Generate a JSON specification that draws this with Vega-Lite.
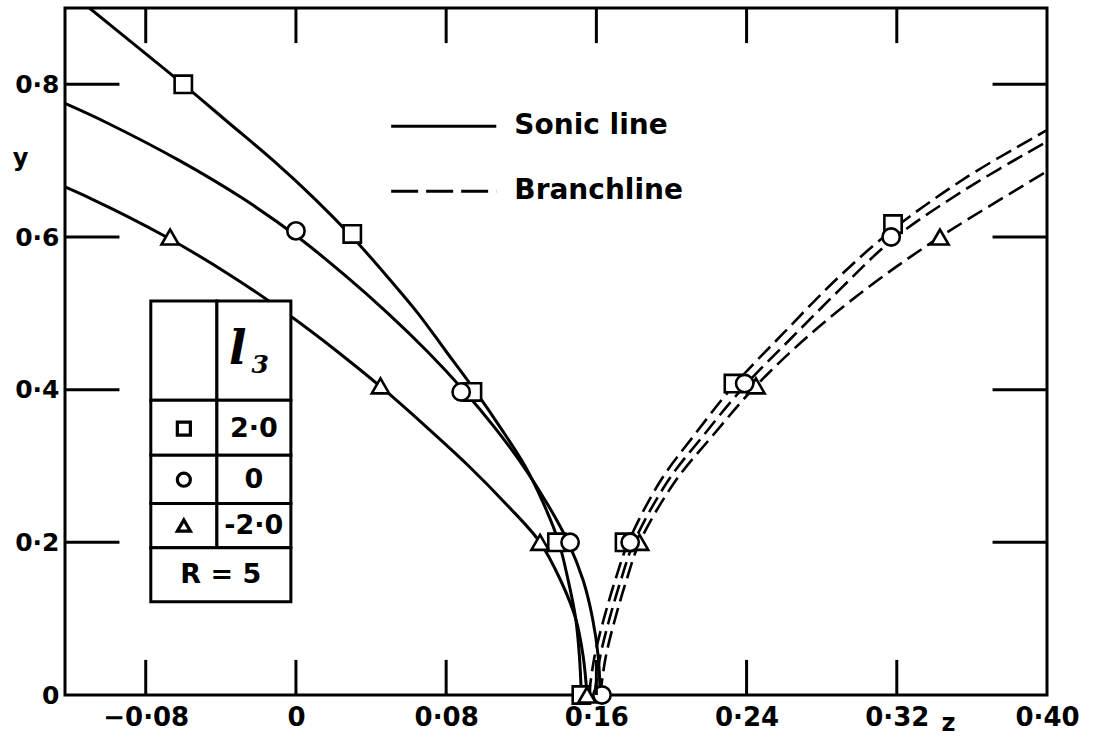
{
  "$schema": "https://vega.github.io/schema/vega-lite/v6.json",
  "width": 982,
  "height": 687,
  "autosize": {"type": "none"},
  "padding": {"left": 65, "top": 8, "right": 53, "bottom": 49},
  "background": "white",
  "config": {"view": {"stroke": "black", "strokeWidth": 3}, "font": "DejaVu Sans"},
  "encoding": {
    "x": {"type": "quantitative",
      "scale": {"domain": [-0.123, 0.40], "nice": false, "zero": false},
      "axis": {"values": [-0.08, 0, 0.08, 0.16, 0.24, 0.32, 0.40],
        "labelExpr": "datum.value == 0 ? '0' : replace(replace(format(datum.value, '.2f'), '.', '·'), '-', '−')",
        "ticks": false, "domain": false, "grid": false,
        "labelFont": "DejaVu Sans", "labelFontWeight": "bold", "labelFontSize": 26, "labelColor": "black",
        "labelPadding": 9, "labelFlush": false, "labelOverlap": false,
        "title": "z", "titleFont": "DejaVu Sans", "titleFontWeight": "bold", "titleFontSize": 24, "titleColor": "black",
        "titleX": 883, "titleY": 28, "titleBaseline": "middle", "titleAlign": "center"}},
    "y": {"type": "quantitative",
      "scale": {"domain": [0, 0.9], "nice": false, "zero": false},
      "axis": {"values": [0, 0.2, 0.4, 0.6, 0.8],
        "labelExpr": "datum.value == 0 ? '0' : replace(format(datum.value, '.1f'), '.', '·')",
        "ticks": false, "domain": false, "grid": false,
        "labelFont": "DejaVu Sans", "labelFontWeight": "bold", "labelFontSize": 25, "labelColor": "black",
        "labelPadding": 6, "labelFlush": false, "labelOverlap": false,
        "title": "y", "titleFont": "DejaVu Sans", "titleFontWeight": "bold", "titleFontSize": 24, "titleColor": "black",
        "titleAngle": 0, "titleX": -45, "titleY": 150, "titleBaseline": "middle", "titleAlign": "center"}}
  },
  "datasets": {
    "curves": [
      {"series": "sq", "kind": "sonic", "x": 0.152, "y": 0.0},
      {"series": "sq", "kind": "sonic", "x": 0.151, "y": 0.05},
      {"series": "sq", "kind": "sonic", "x": 0.149, "y": 0.1},
      {"series": "sq", "kind": "sonic", "x": 0.145, "y": 0.15},
      {"series": "sq", "kind": "sonic", "x": 0.140, "y": 0.2},
      {"series": "sq", "kind": "sonic", "x": 0.132, "y": 0.25},
      {"series": "sq", "kind": "sonic", "x": 0.122, "y": 0.3},
      {"series": "sq", "kind": "sonic", "x": 0.109, "y": 0.35},
      {"series": "sq", "kind": "sonic", "x": 0.095, "y": 0.4},
      {"series": "sq", "kind": "sonic", "x": 0.080, "y": 0.45},
      {"series": "sq", "kind": "sonic", "x": 0.065, "y": 0.5},
      {"series": "sq", "kind": "sonic", "x": 0.048, "y": 0.55},
      {"series": "sq", "kind": "sonic", "x": 0.030, "y": 0.6},
      {"series": "sq", "kind": "sonic", "x": 0.010, "y": 0.65},
      {"series": "sq", "kind": "sonic", "x": -0.012, "y": 0.7},
      {"series": "sq", "kind": "sonic", "x": -0.036, "y": 0.75},
      {"series": "sq", "kind": "sonic", "x": -0.060, "y": 0.8},
      {"series": "sq", "kind": "sonic", "x": -0.085, "y": 0.85},
      {"series": "sq", "kind": "sonic", "x": -0.110, "y": 0.9},
      {"series": "ci", "kind": "sonic", "x": 0.162, "y": 0.0},
      {"series": "ci", "kind": "sonic", "x": 0.161, "y": 0.05},
      {"series": "ci", "kind": "sonic", "x": 0.158, "y": 0.1},
      {"series": "ci", "kind": "sonic", "x": 0.153, "y": 0.15},
      {"series": "ci", "kind": "sonic", "x": 0.145, "y": 0.2},
      {"series": "ci", "kind": "sonic", "x": 0.134, "y": 0.25},
      {"series": "ci", "kind": "sonic", "x": 0.121, "y": 0.3},
      {"series": "ci", "kind": "sonic", "x": 0.106, "y": 0.35},
      {"series": "ci", "kind": "sonic", "x": 0.089, "y": 0.4},
      {"series": "ci", "kind": "sonic", "x": 0.070, "y": 0.45},
      {"series": "ci", "kind": "sonic", "x": 0.049, "y": 0.5},
      {"series": "ci", "kind": "sonic", "x": 0.026, "y": 0.55},
      {"series": "ci", "kind": "sonic", "x": 0.001, "y": 0.6},
      {"series": "ci", "kind": "sonic", "x": -0.028, "y": 0.65},
      {"series": "ci", "kind": "sonic", "x": -0.062, "y": 0.7},
      {"series": "ci", "kind": "sonic", "x": -0.101, "y": 0.75},
      {"series": "ci", "kind": "sonic", "x": -0.124, "y": 0.776},
      {"series": "tr", "kind": "sonic", "x": 0.155, "y": 0.0},
      {"series": "tr", "kind": "sonic", "x": 0.153, "y": 0.05},
      {"series": "tr", "kind": "sonic", "x": 0.149, "y": 0.1},
      {"series": "tr", "kind": "sonic", "x": 0.141, "y": 0.15},
      {"series": "tr", "kind": "sonic", "x": 0.130, "y": 0.2},
      {"series": "tr", "kind": "sonic", "x": 0.112, "y": 0.25},
      {"series": "tr", "kind": "sonic", "x": 0.092, "y": 0.3},
      {"series": "tr", "kind": "sonic", "x": 0.070, "y": 0.35},
      {"series": "tr", "kind": "sonic", "x": 0.047, "y": 0.4},
      {"series": "tr", "kind": "sonic", "x": 0.022, "y": 0.45},
      {"series": "tr", "kind": "sonic", "x": -0.005, "y": 0.5},
      {"series": "tr", "kind": "sonic", "x": -0.035, "y": 0.55},
      {"series": "tr", "kind": "sonic", "x": -0.069, "y": 0.6},
      {"series": "tr", "kind": "sonic", "x": -0.109, "y": 0.65},
      {"series": "tr", "kind": "sonic", "x": -0.156, "y": 0.7},
      {"series": "sqb", "kind": "branch", "x": 0.156, "y": 0.0},
      {"series": "sqb", "kind": "branch", "x": 0.159, "y": 0.05},
      {"series": "sqb", "kind": "branch", "x": 0.164, "y": 0.1},
      {"series": "sqb", "kind": "branch", "x": 0.170, "y": 0.15},
      {"series": "sqb", "kind": "branch", "x": 0.177, "y": 0.2},
      {"series": "sqb", "kind": "branch", "x": 0.194, "y": 0.28},
      {"series": "sqb", "kind": "branch", "x": 0.212, "y": 0.34},
      {"series": "sqb", "kind": "branch", "x": 0.233, "y": 0.405},
      {"series": "sqb", "kind": "branch", "x": 0.260, "y": 0.475},
      {"series": "sqb", "kind": "branch", "x": 0.288, "y": 0.545},
      {"series": "sqb", "kind": "branch", "x": 0.318, "y": 0.61},
      {"series": "sqb", "kind": "branch", "x": 0.357, "y": 0.678},
      {"series": "sqb", "kind": "branch", "x": 0.400, "y": 0.74},
      {"series": "cib", "kind": "branch", "x": 0.159, "y": 0.0},
      {"series": "cib", "kind": "branch", "x": 0.162, "y": 0.05},
      {"series": "cib", "kind": "branch", "x": 0.167, "y": 0.1},
      {"series": "cib", "kind": "branch", "x": 0.173, "y": 0.15},
      {"series": "cib", "kind": "branch", "x": 0.180, "y": 0.2},
      {"series": "cib", "kind": "branch", "x": 0.198, "y": 0.28},
      {"series": "cib", "kind": "branch", "x": 0.217, "y": 0.34},
      {"series": "cib", "kind": "branch", "x": 0.239, "y": 0.405},
      {"series": "cib", "kind": "branch", "x": 0.264, "y": 0.468},
      {"series": "cib", "kind": "branch", "x": 0.290, "y": 0.532},
      {"series": "cib", "kind": "branch", "x": 0.318, "y": 0.597},
      {"series": "cib", "kind": "branch", "x": 0.357, "y": 0.663},
      {"series": "cib", "kind": "branch", "x": 0.400, "y": 0.725},
      {"series": "trb", "kind": "branch", "x": 0.162, "y": 0.0},
      {"series": "trb", "kind": "branch", "x": 0.165, "y": 0.05},
      {"series": "trb", "kind": "branch", "x": 0.170, "y": 0.1},
      {"series": "trb", "kind": "branch", "x": 0.176, "y": 0.15},
      {"series": "trb", "kind": "branch", "x": 0.183, "y": 0.2},
      {"series": "trb", "kind": "branch", "x": 0.202, "y": 0.28},
      {"series": "trb", "kind": "branch", "x": 0.222, "y": 0.34},
      {"series": "trb", "kind": "branch", "x": 0.245, "y": 0.405},
      {"series": "trb", "kind": "branch", "x": 0.275, "y": 0.475},
      {"series": "trb", "kind": "branch", "x": 0.308, "y": 0.54},
      {"series": "trb", "kind": "branch", "x": 0.343, "y": 0.6},
      {"series": "trb", "kind": "branch", "x": 0.400, "y": 0.686}
    ],
    "markers": [
      {"l3": "2.0", "x": -0.060, "y": 0.8},
      {"l3": "2.0", "x": 0.030, "y": 0.604},
      {"l3": "2.0", "x": 0.094, "y": 0.397},
      {"l3": "2.0", "x": 0.139, "y": 0.2},
      {"l3": "2.0", "x": 0.152, "y": 0.0},
      {"l3": "2.0", "x": 0.175, "y": 0.2},
      {"l3": "2.0", "x": 0.233, "y": 0.408},
      {"l3": "2.0", "x": 0.318, "y": 0.617},
      {"l3": "-2.0", "x": -0.067, "y": 0.6},
      {"l3": "-2.0", "x": 0.045, "y": 0.405},
      {"l3": "-2.0", "x": 0.130, "y": 0.2},
      {"l3": "-2.0", "x": 0.155, "y": 0.0},
      {"l3": "-2.0", "x": 0.183, "y": 0.2},
      {"l3": "-2.0", "x": 0.245, "y": 0.405},
      {"l3": "-2.0", "x": 0.343, "y": 0.6},
      {"l3": "0", "x": 0.000, "y": 0.608},
      {"l3": "0", "x": 0.088, "y": 0.397},
      {"l3": "0", "x": 0.146, "y": 0.2},
      {"l3": "0", "x": 0.163, "y": 0.0},
      {"l3": "0", "x": 0.178, "y": 0.2},
      {"l3": "0", "x": 0.239, "y": 0.408},
      {"l3": "0", "x": 0.317, "y": 0.6}
    ],
    "cells": [
      {"x1": -0.0773, "x2": -0.0421, "y1": 0.386, "y2": 0.516},
      {"x1": -0.0421, "x2": -0.0027, "y1": 0.386, "y2": 0.516},
      {"x1": -0.0773, "x2": -0.0421, "y1": 0.314, "y2": 0.386},
      {"x1": -0.0421, "x2": -0.0027, "y1": 0.314, "y2": 0.386},
      {"x1": -0.0773, "x2": -0.0421, "y1": 0.251, "y2": 0.314},
      {"x1": -0.0421, "x2": -0.0027, "y1": 0.251, "y2": 0.314},
      {"x1": -0.0773, "x2": -0.0421, "y1": 0.193, "y2": 0.251},
      {"x1": -0.0421, "x2": -0.0027, "y1": 0.193, "y2": 0.251},
      {"x1": -0.0773, "x2": -0.0027, "y1": 0.122, "y2": 0.193}
    ],
    "tablerows": [
      {"l3": "2.0", "label": "2·0", "sx": -0.0597, "tx": -0.0224, "y": 0.349},
      {"l3": "0", "label": "0", "sx": -0.0597, "tx": -0.0224, "y": 0.282},
      {"l3": "-2.0", "label": "-2·0", "sx": -0.0597, "tx": -0.0224, "y": 0.222}
    ],
    "texts": [
      {"t": "R = 5", "x": -0.040, "y": 0.157, "k": "table"},
      {"t": "Sonic line", "x": 0.1163, "y": 0.745, "k": "legend"},
      {"t": "Branchline", "x": 0.1163, "y": 0.660, "k": "legend"}
    ]
  },
  "layer": [
    {
      "data": {"name": "curves"},
      "transform": [{"filter": "datum.kind == 'sonic'"}],
      "mark": {"type": "line", "interpolate": "catmull-rom", "color": "black", "strokeWidth": 3, "clip": true},
      "encoding": {
        "x": {"field": "x", "type": "quantitative"},
        "y": {"field": "y", "type": "quantitative"},
        "detail": {"field": "series"}
      }
    },
    {
      "data": {"name": "curves"},
      "transform": [{"filter": "datum.kind == 'branch'"}],
      "mark": {"type": "line", "interpolate": "catmull-rom", "color": "black", "strokeWidth": 2.6, "strokeDash": [17, 7], "clip": true},
      "encoding": {
        "x": {"field": "x", "type": "quantitative"},
        "y": {"field": "y", "type": "quantitative"},
        "detail": {"field": "series"}
      }
    },
    {
      "data": {"name": "markers"},
      "mark": {"type": "point", "filled": true, "fill": "white", "stroke": "black", "strokeWidth": 2.6, "size": 300, "opacity": 1},
      "encoding": {
        "x": {"field": "x", "type": "quantitative"},
        "y": {"field": "y", "type": "quantitative"},
        "shape": {"field": "l3", "type": "nominal", "scale": {"domain": ["2.0", "0", "-2.0"], "range": ["square", "circle", "triangle-up"]}, "legend": null}
      }
    },
    {
      "data": {"values": [{"v": -0.08}, {"v": 0}, {"v": 0.08}, {"v": 0.16}, {"v": 0.24}, {"v": 0.32}]},
      "layer": [
        {"mark": {"type": "rule", "color": "black", "strokeWidth": 3},
         "encoding": {"x": {"field": "v", "type": "quantitative"},
                      "y": {"datum": 0, "type": "quantitative"},
                      "y2": {"datum": 0.046}}},
        {"mark": {"type": "rule", "color": "black", "strokeWidth": 3},
         "encoding": {"x": {"field": "v", "type": "quantitative"},
                      "y": {"datum": 0.854, "type": "quantitative"},
                      "y2": {"datum": 0.9}}}
      ]
    },
    {
      "data": {"values": [{"v": 0.2}, {"v": 0.4}, {"v": 0.6}, {"v": 0.8}]},
      "layer": [
        {"mark": {"type": "rule", "color": "black", "strokeWidth": 3},
         "encoding": {"y": {"field": "v", "type": "quantitative"},
                      "x": {"datum": -0.123, "type": "quantitative"},
                      "x2": {"datum": -0.094}}},
        {"mark": {"type": "rule", "color": "black", "strokeWidth": 3},
         "encoding": {"y": {"field": "v", "type": "quantitative"},
                      "x": {"datum": 0.371, "type": "quantitative"},
                      "x2": {"datum": 0.40}}}
      ]
    },
    {
      "data": {"name": "cells"},
      "mark": {"type": "rect", "fill": "white", "stroke": "black", "strokeWidth": 3},
      "encoding": {
        "x": {"field": "x1", "type": "quantitative"},
        "x2": {"field": "x2"},
        "y": {"field": "y1", "type": "quantitative"},
        "y2": {"field": "y2"}
      }
    },
    {
      "data": {"name": "tablerows"},
      "layer": [
        {"mark": {"type": "point", "filled": true, "fill": "white", "stroke": "black", "strokeWidth": 3.2, "size": 170, "opacity": 1},
         "encoding": {
           "x": {"field": "sx", "type": "quantitative"},
           "y": {"field": "y", "type": "quantitative"},
           "shape": {"field": "l3", "type": "nominal", "scale": {"domain": ["2.0", "0", "-2.0"], "range": ["square", "circle", "triangle-up"]}, "legend": null}}},
        {"mark": {"type": "text", "font": "DejaVu Sans", "fontWeight": "bold", "fontSize": 27, "color": "black", "align": "center", "baseline": "middle"},
         "encoding": {
           "x": {"field": "tx", "type": "quantitative"},
           "y": {"field": "y", "type": "quantitative"},
           "text": {"field": "label"}}}
      ]
    },
    {
      "data": {"values": [{"t": "l", "x": -0.031, "y": 0.452, "k": "l"}, {"t": "3", "x": -0.019, "y": 0.432, "k": "s"}]},
      "layer": [
        {"transform": [{"filter": "datum.k == 'l'"}],
         "mark": {"type": "text", "font": "DejaVu Serif", "fontStyle": "italic", "fontWeight": "bold", "fontSize": 46, "color": "black", "align": "center", "baseline": "middle"},
         "encoding": {
           "x": {"field": "x", "type": "quantitative"},
           "y": {"field": "y", "type": "quantitative"},
           "text": {"field": "t"}}},
        {"transform": [{"filter": "datum.k == 's'"}],
         "mark": {"type": "text", "font": "DejaVu Serif", "fontStyle": "italic", "fontWeight": "bold", "fontSize": 25, "color": "black", "align": "center", "baseline": "middle"},
         "encoding": {
           "x": {"field": "x", "type": "quantitative"},
           "y": {"field": "y", "type": "quantitative"},
           "text": {"field": "t"}}}
      ]
    },
    {
      "data": {"values": [{"x": 0.0507, "x2": 0.1067, "y": 0.745, "kind": "sonic"}]},
      "mark": {"type": "rule", "color": "black", "strokeWidth": 3},
      "encoding": {
        "x": {"field": "x", "type": "quantitative"},
        "x2": {"field": "x2"},
        "y": {"field": "y", "type": "quantitative"}
      }
    },
    {
      "data": {"values": [{"x": 0.0507, "x2": 0.1067, "y": 0.660, "kind": "branch"}]},
      "mark": {"type": "rule", "color": "black", "strokeWidth": 3, "strokeDash": [27, 8]},
      "encoding": {
        "x": {"field": "x", "type": "quantitative"},
        "x2": {"field": "x2"},
        "y": {"field": "y", "type": "quantitative"}
      }
    },
    {
      "data": {"name": "texts"},
      "layer": [
        {"transform": [{"filter": "datum.k == 'legend'"}],
         "mark": {"type": "text", "font": "DejaVu Sans", "fontWeight": "bold", "fontSize": 28, "color": "black", "align": "left", "baseline": "middle"},
         "encoding": {
           "x": {"field": "x", "type": "quantitative"},
           "y": {"field": "y", "type": "quantitative"},
           "text": {"field": "t"}}},
        {"transform": [{"filter": "datum.k == 'table'"}],
         "mark": {"type": "text", "font": "DejaVu Sans", "fontWeight": "bold", "fontSize": 27, "color": "black", "align": "center", "baseline": "middle"},
         "encoding": {
           "x": {"field": "x", "type": "quantitative"},
           "y": {"field": "y", "type": "quantitative"},
           "text": {"field": "t"}}}
      ]
    }
  ]
}
